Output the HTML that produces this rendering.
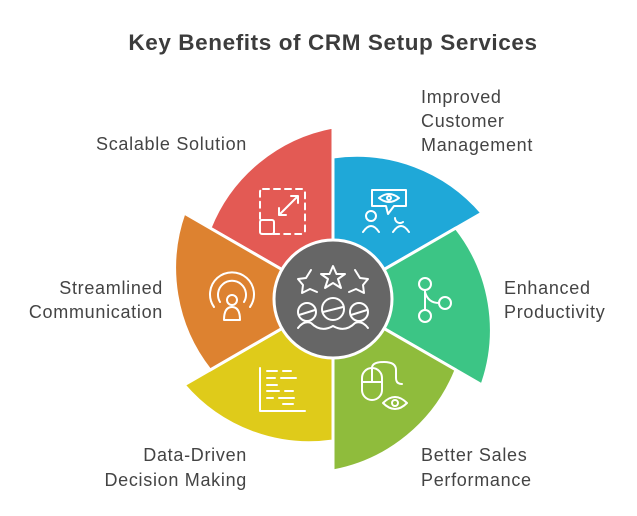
<!DOCTYPE html>
<html><head><meta charset="utf-8"><style>
body{margin:0;background:#fff;}
svg{display:block}
text{font-family:"Liberation Sans",sans-serif;fill:#444;font-size:18px;letter-spacing:0.7px}
</style></head><body>
<svg width="637" height="516" viewBox="0 0 637 516">
<text x="333" y="50" text-anchor="middle" style="font-size:22.5px;font-weight:bold;fill:#3c3c3c;letter-spacing:0.6px">Key Benefits of CRM Setup Services</text>
<g stroke="#fff" stroke-width="3" stroke-linejoin="round">
<path d="M333 299 L210 228 A165 165 0 0 1 333 127 Z" fill="#e35a54"/>
<path d="M333 299 L210 228 A165 165 0 0 1 333 127 Z" fill="#1fa8d8" transform="rotate(60 333 299)"/>
<path d="M333 299 L210 228 A165 165 0 0 1 333 127 Z" fill="#3cc585" transform="rotate(120 333 299)"/>
<path d="M333 299 L210 228 A165 165 0 0 1 333 127 Z" fill="#8fbc3c" transform="rotate(180 333 299)"/>
<path d="M333 299 L210 228 A165 165 0 0 1 333 127 Z" fill="#dfcb1a" transform="rotate(240 333 299)"/>
<path d="M333 299 L210 228 A165 165 0 0 1 333 127 Z" fill="#dd8230" transform="rotate(300 333 299)"/>
<circle cx="333" cy="299" r="59" fill="#666"/>
</g>
<g fill="none" stroke="#fff" stroke-width="2" stroke-linecap="round" stroke-linejoin="round">
<rect x="260" y="189" width="45" height="45" rx="3" stroke-dasharray="6 5"/>
<rect x="260" y="220" width="14" height="14" rx="2"/>
<path d="M279 215 L298 196 M291 196 L298 196 L298 203 M279 208 L279 215 L286 215"/>
<path d="M372 190 h34 v16 h-12 l-6 8 l-2 -8 h-14 z"/>
<path d="M379 198 q10 -8 20 0 q-10 8 -20 0"/><circle cx="389" cy="198" r="2"/>
<circle cx="371" cy="216" r="5"/><path d="M363 232 q8 -12 16 0 M395 218 a5 5 0 0 0 8 4 M393 232 q8 -12 16 0"/>
<circle cx="425" cy="284" r="6"/><circle cx="425" cy="316" r="6"/><circle cx="445" cy="303" r="6"/>
<path d="M425 290 V310 M425 292 Q428 303 439 303"/>
<rect x="362" y="368" width="20" height="32" rx="10"/><path d="M362 382 h20 M372 368 v14 M372 368 q0 -6 12 -6 q12 0 12 8 v8 q0 6 6 6"/>
<path d="M383 403 q12 -12 24 0 q-12 12 -24 0"/><circle cx="395" cy="403" r="3"/>
<path d="M260 368 V411 H305 M267 371 h10 M283 371 h8 M267 378 h8 M281 378 h15 M267 385 h10 M267 391 h12 M285 391 h8 M267 398 h6 M279 398 h15 M283 404 h10"/>
<path d="M214 307 a22 22 0 1 1 36 0 M220 302 a14 14 0 1 1 24 0"/>
<circle cx="232" cy="300" r="5"/><path d="M224 320 q0 -13 8 -13 q8 0 8 13 z"/>
<path d="M333 266 l3.5 8 h8.5 l-7 5 l3 9 l-8 -5 l-8 5 l3 -9 l-7 -5 h8.5 z"/>
<path d="M311 270 l-5 8 l-8 1 l5 6 l-1 8 l8 -4 l7 3"/>
<path d="M355 270 l5 8 l8 1 l-5 6 l1 8 l-8 -4 l-7 3"/>
<circle cx="307" cy="312" r="9"/><circle cx="333" cy="309" r="11"/><circle cx="359" cy="312" r="9"/>
<path d="M299 315 l16 -5 M323 312 l20 -5 M351 315 l16 -5 M298 328 q6 -8 13 -5 q10 10 22 3 q12 7 22 -3 q7 -3 13 5"/>
</g>
<text x="247" y="150" text-anchor="end">Scalable Solution</text>
<text x="421" y="103">Improved</text><text x="421" y="127">Customer</text><text x="421" y="151">Management</text>
<text x="504" y="294">Enhanced</text><text x="504" y="318">Productivity</text>
<text x="421" y="461">Better Sales</text><text x="421" y="486">Performance</text>
<text x="247" y="461" text-anchor="end">Data-Driven</text><text x="247" y="486" text-anchor="end">Decision Making</text>
<text x="163" y="294" text-anchor="end">Streamlined</text><text x="163" y="318" text-anchor="end">Communication</text>
</svg>
</body></html>
